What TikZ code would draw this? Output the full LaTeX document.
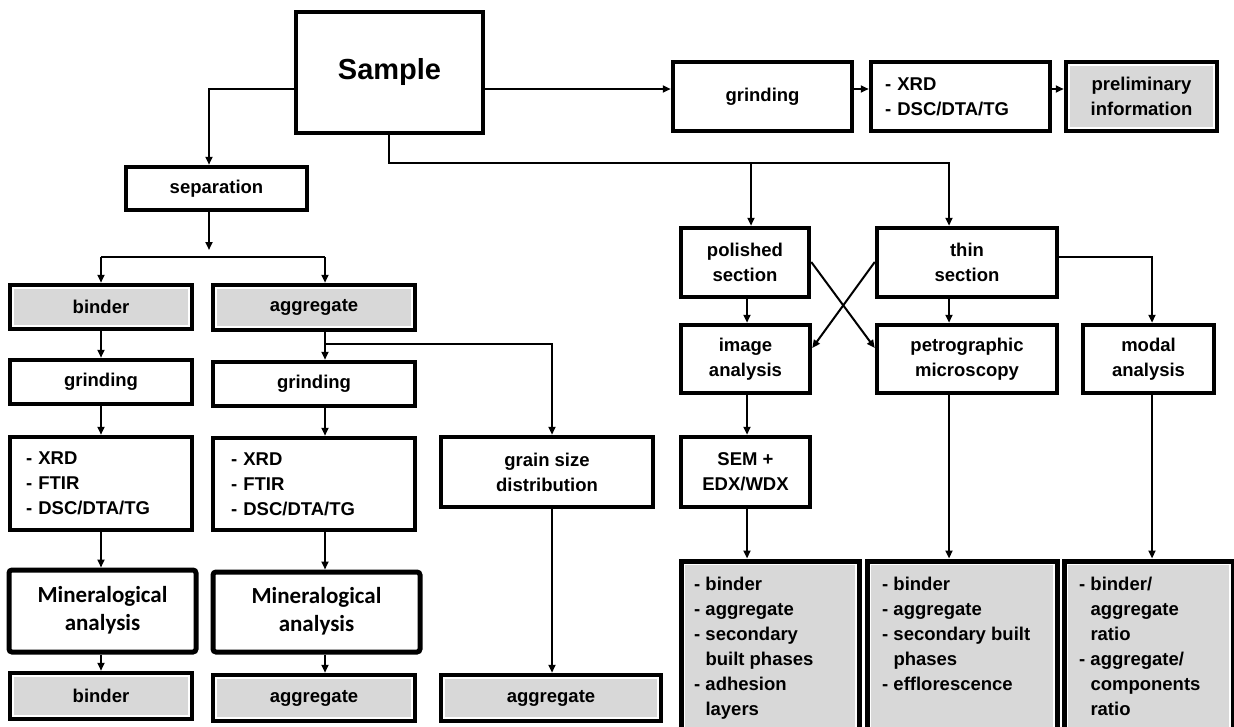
\documentclass[tikz,border=0pt]{standalone}
\usepackage{fontspec}
\setmainfont{Liberation Sans}
\newfontfamily\calfont{Carlito}
\usetikzlibrary{arrows.meta}
\definecolor{boxgray}{RGB}{216,216,216}
% box from its corners: name, x1, y1, x2, y2, style, text
\newcommand\mkbox[7]{\node[#6, minimum width={#4-#2}, minimum height={#5-#3}] (#1) at ({(#2+#4)/2},{(#3+#5)/2}) {#7};}
% two-line label set a little below the box centre
\newcommand\lowpair[2]{\raisebox{-4pt}{\begin{tabular}{@{}c@{}}#1\\#2\end{tabular}}}
\begin{document}
\begin{tikzpicture}[x=1pt,y=-1pt,
  boxbase/.style={draw=black, line width=4.5pt, inner sep=0pt, align=center,
    font=\bfseries\fontsize{18.5}{25}\selectfont},
  wbox/.style={boxbase, fill=white},
  gbox/.style={boxbase, fill=boxgray,
    path picture={\draw[white,line width=8.5pt] (path picture bounding box.south west) rectangle (path picture bounding box.north east);}},
  bigbox/.style={gbox, line width=5pt},
  mbox/.style={draw=black, line width=5pt, rounded corners=3pt, fill=white, inner sep=0pt,
    align=center, font=\calfont\bfseries\fontsize{23}{28}\selectfont},
  listtxt/.style={inner sep=0pt, align=left, anchor=north west,
    font=\bfseries\fontsize{18.5}{25}\selectfont},
  wire/.style={line width=2pt},
  con/.style={wire, -{Triangle[length=8pt,width=7pt]}},
  conb/.style={con, line width=2.6pt}]
\path[use as bounding box] (0,0) rectangle (1234,726);
\clip (0,0) rectangle (1234,726);
\fill[white] (0,0) rectangle (1234,726);

% ---- left part: separation of binder and aggregate
\mkbox{sample}{296}{12}{483}{133}{wbox, font=\bfseries\fontsize{29}{34}\selectfont}{\raisebox{-9pt}{Sample}}
\mkbox{sep}{126}{167}{307}{210}{wbox}{separation}
\mkbox{binderA}{10}{285}{192}{329}{gbox}{binder}
\mkbox{aggA}{213}{285}{415}{330}{gbox}{aggregate}
\mkbox{grindL}{10}{360}{192}{404}{wbox}{grinding}
\mkbox{grindM}{213}{362}{415}{406}{wbox}{grinding}
\mkbox{xrdL}{10}{437}{192}{530}{wbox, align=left, text width=150pt}{- XRD\\- FTIR\\- DSC/DTA/TG}
\mkbox{xrdM}{213}{438}{415}{530}{wbox, align=left, text width=166pt}{- XRD\\- FTIR\\- DSC/DTA/TG}
\mkbox{grain}{441}{437}{653}{507}{wbox}{grain size\\distribution}
\mkbox{minL}{9}{570}{196}{652}{mbox}{\lowpair{Mineralogical}{analysis}}
\mkbox{minM}{213}{572}{420}{652}{mbox}{\lowpair{Mineralogical}{analysis}}
\mkbox{binderB}{10}{673}{192}{719}{gbox}{binder}
\mkbox{aggB}{213}{675}{415}{721}{gbox}{aggregate}
\mkbox{aggC}{441}{675}{661}{721}{gbox}{aggregate}

% ---- top row
\mkbox{grindR}{673}{62}{852}{131}{wbox}{grinding}
\mkbox{xrdR}{871}{62}{1050}{131}{wbox, align=left, text width=151pt}{- XRD\\- DSC/DTA/TG}
\mkbox{prelim}{1066}{62}{1217}{131}{gbox}{preliminary\\information}

% ---- right part: sections and microscopy
\mkbox{polished}{681}{228}{809}{297}{wbox}{polished\\section}
\mkbox{thin}{877}{228}{1057}{297}{wbox}{thin\\section}
\mkbox{image}{681}{325}{810}{393}{wbox}{image\\analysis}
\mkbox{petro}{877}{325}{1057}{393}{wbox}{petrographic\\microscopy}
\mkbox{modal}{1083}{325}{1214}{393}{wbox}{modal\\analysis}
\mkbox{sem}{681}{437}{810}{507}{wbox}{SEM +\\EDX/WDX}
\mkbox{r1}{681}{561}{859}{740}{bigbox}{}
\mkbox{r2}{867}{561}{1057}{740}{bigbox}{}
\mkbox{r3}{1064}{561}{1233}{740}{bigbox}{}
\node[listtxt] (r1t) at (694,577) {- binder\\- aggregate\\- secondary\\\phantom{- }built phases\\- adhesion\\\phantom{- }layers};
\node[listtxt] (r2t) at (882,577) {- binder\\- aggregate\\- secondary built\\\phantom{- }phases\\- efflorescence};
\node[listtxt] (r3t) at (1079,577) {- binder/\\\phantom{- }aggregate\\\phantom{- }ratio\\- aggregate/\\\phantom{- }components\\\phantom{- }ratio};

% ---- routing points
\coordinate (lj) at (209,89);
\coordinate (bar) at (209,257);
\coordinate (barL) at (101,257);
\coordinate (barR) at (325,257);
\coordinate (jM) at (325,344);
\coordinate (colG) at (552,0);
\coordinate (rowT) at (0,89);
\coordinate (sB) at (389,163);
\coordinate (cP) at (751,163);
\coordinate (cT) at (949,163);
\coordinate (cI) at (747,0);
\coordinate (mR) at (1152,257);
\coordinate (xU) at (0,262);
\coordinate (xD) at (0,348);

% ---- connectors, left part
\draw[con] (sample.west |- lj) -- (lj) -- (sep.north -| lj);
\draw[con] (sep.south -| bar) -- ([yshift=7pt]bar);
\draw[wire] (barL) -- (barR);
\draw[con] (barL) -- (binderA.north -| barL);
\draw[con] (barR) -- (aggA.north -| barR);
\draw[con] (binderA.south -| barL) -- (grindL.north -| barL);
\draw[con] (grindL.south -| barL) -- (xrdL.north -| barL);
\draw[con] (xrdL.south -| barL) -- (minL.north -| barL);
\draw[con] (minL.south -| barL) -- (binderB.north -| barL);
\draw[con] (aggA.south -| barR) -- (grindM.north -| barR);
\draw[con] (grindM.south -| barR) -- (xrdM.north -| barR);
\draw[con] (xrdM.south -| barR) -- (minM.north -| barR);
\draw[con] (minM.south -| barR) -- (aggB.north -| barR);
\draw[con] (jM) -| (grain.north -| colG);
\draw[con] (grain.south -| colG) -- (aggC.north -| colG);

% ---- connectors, top row
\draw[con] (sample.east |- rowT) -- (grindR.west |- rowT);
\draw[con] (grindR.east |- rowT) -- (xrdR.west |- rowT);
\draw[con] (xrdR.east |- rowT) -- (prelim.west |- rowT);

% ---- connectors, right part
\draw[con] (sample.south -| sB) -- (sB) -- (cT) -- (thin.north -| cT);
\draw[con] (cP) -- (polished.north -| cP);
\draw[conb] (polished.south -| cI) -- (image.north -| cI);
\draw[conb] (thin.south -| cT) -- (petro.north -| cT);
\draw[conb] (thin.east |- mR) -| (modal.north -| mR);
\draw[con] (polished.east |- xU) -- (petro.west |- xD);
\draw[con] (thin.west |- xU) -- (image.east |- xD);
\draw[conb] (image.south -| cI) -- (sem.north -| cI);
\draw[conb] (sem.south -| cI) -- (r1.north -| cI);
\draw[conb] (petro.south -| cT) -- (r2.north -| cT);
\draw[con] (modal.south -| mR) -- (r3.north -| mR);
\end{tikzpicture}
\end{document}
